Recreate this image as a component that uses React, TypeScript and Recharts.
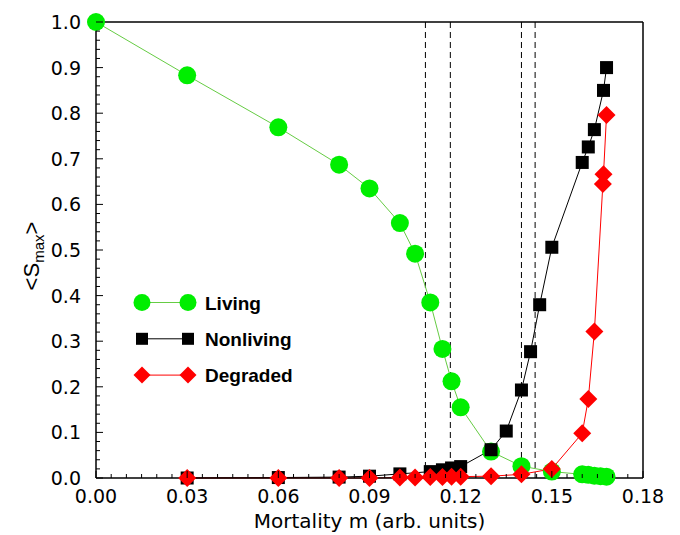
import React from "react";
import { LineChart, Line, XAxis, YAxis, ReferenceLine, Label } from "recharts";

// mortality (x) and mean largest cluster size <S_max> (y)
const livingM = [0, 0.03, 0.06, 0.08, 0.09, 0.1, 0.105, 0.11, 0.114, 0.117, 0.12, 0.13, 0.14, 0.15, 0.16, 0.162, 0.164, 0.166, 0.168];
const livingS = [1.0, 0.883, 0.769, 0.687, 0.635, 0.559, 0.492, 0.385, 0.283, 0.212, 0.155, 0.058, 0.026, 0.014, 0.008, 0.007, 0.005, 0.004, 0.003];

const nonlivingM = [0.03, 0.06, 0.08, 0.09, 0.1, 0.11, 0.114, 0.117, 0.12, 0.13, 0.135, 0.14, 0.143, 0.146, 0.15, 0.16, 0.162, 0.164, 0.167, 0.168];
const nonlivingS = [0.0, 0.001, 0.002, 0.004, 0.009, 0.014, 0.018, 0.022, 0.025, 0.062, 0.103, 0.193, 0.277, 0.38, 0.506, 0.692, 0.726, 0.764, 0.85, 0.9];

const degradedM = [0.03, 0.06, 0.08, 0.09, 0.1, 0.105, 0.11, 0.114, 0.117, 0.12, 0.13, 0.14, 0.15, 0.16, 0.162, 0.164, 0.1668, 0.167, 0.168];
const degradedS = [0, 0, 0, 0, 0.001, 0.001, 0.002, 0.002, 0.003, 0.003, 0.004, 0.008, 0.02, 0.098, 0.173, 0.321, 0.645, 0.666, 0.796];

// dashed vertical markers
const dashedM = [0.1084, 0.1166, 0.14, 0.1445];

const xMajor = [0, 0.03, 0.06, 0.09, 0.12, 0.15, 0.18];
const yMajor = [0, 0.1, 0.2, 0.3, 0.4, 0.5, 0.6, 0.7, 0.8, 0.9, 1.0];

const xTicks: number[] = [];
for (let i = 0; i <= 36; i++) xTicks.push(Number((i * 0.005).toFixed(3)));
const yTicks: number[] = [];
for (let i = 0; i <= 50; i++) yTicks.push(Number((i * 0.02).toFixed(2)));

const zip = (m: number[], s: number[]) => m.map((v, i) => ({ m: v, s: s[i] }));
const living = zip(livingM, livingS);
const nonliving = zip(nonlivingM, nonlivingS);
const degraded = zip(degradedM, degradedS);

const GREEN = "#00ee00";
const GREEN_LINE = "#66cc44";
const RED = "#ff0000";
const NUM_FONT = "DejaVu Sans";

const isMajorX = (v: number) => xMajor.some((t) => Math.abs(t - v) < 1e-6);
const isMajorY = (v: number) => yMajor.some((t) => Math.abs(t - v) < 1e-6);

function BottomTick(p: any) {
    const v = p.payload.value;
    const major = isMajorX(v);
    return (
        <g>
            <line x1={p.x} x2={p.x} y1={p.y} y2={p.y - (major ? 7 : 4)} stroke="#000" />
            {major && (
                <text x={p.x} y={p.y + 25} textAnchor="middle" fontSize={19} fontFamily={NUM_FONT} fill="#000">
                    {v.toFixed(2)}
                </text>
            )}
        </g>
    );
}

function TopTick(p: any) {
    const major = isMajorX(p.payload.value);
    return <line x1={p.x} x2={p.x} y1={p.y} y2={p.y + (major ? 7 : 4)} stroke="#000" />;
}

function LeftTick(p: any) {
    const v = p.payload.value;
    const major = isMajorY(v);
    return (
        <g>
            <line x1={p.x} x2={p.x + (major ? 7 : 4)} y1={p.y} y2={p.y} stroke="#000" />
            {major && (
                <text x={p.x - 15} y={p.y + 7} textAnchor="end" fontSize={19} fontFamily={NUM_FONT} fill="#000">
                    {v.toFixed(1)}
                </text>
            )}
        </g>
    );
}

function RightTick(p: any) {
    const major = isMajorY(p.payload.value);
    return <line x1={p.x} x2={p.x - (major ? 7 : 4)} y1={p.y} y2={p.y} stroke="#000" />;
}

const circleDot = (p: any) => <circle key={`c${p.index}`} cx={p.cx} cy={p.cy} r={9} fill={GREEN} />;
const squareDot = (p: any) => <rect key={`s${p.index}`} x={p.cx - 6.5} y={p.cy - 6.5} width={13} height={13} fill="#000" />;
const diamondDot = (p: any) => (
    <path key={`d${p.index}`} d={`M${p.cx},${p.cy - 9}L${p.cx + 9},${p.cy}L${p.cx},${p.cy + 9}L${p.cx - 9},${p.cy}Z`} fill={RED} />
);

function XTitle(props: any) {
    const vb = props.viewBox;
    return (
        <text x={vb.x + vb.width / 2} y={vb.y + 50} textAnchor="middle" fontSize={20} fontFamily={NUM_FONT} fill="#000">
            Mortality m (arb. units)
        </text>
    );
}

function YTitle(props: any) {
    const vb = props.viewBox;
    const cx = vb.x + vb.width - 57;
    const cy = vb.y + vb.height / 2 + 6;
    return (
        <text x={cx} y={cy} transform={`rotate(-90, ${cx}, ${cy})`} textAnchor="middle" fontSize={22} fontFamily="Liberation Sans" fill="#000">
            <tspan>{"<S"}</tspan>
            <tspan fontSize={15} dy={5}>max</tspan>
            <tspan dy={-5}>{">"}</tspan>
        </text>
    );
}

const legendItems = [
    { name: "Living", color: GREEN_LINE, shape: "circle" },
    { name: "Nonliving", color: "#000", shape: "square" },
    { name: "Degraded", color: RED, shape: "diamond" },
];

function Marker({ shape, x, y }: { shape: string; x: number; y: number }) {
    if (shape === "circle") return <circle cx={x} cy={y} r={8.5} fill={GREEN} />;
    if (shape === "square") return <rect x={x - 6} y={y - 6} width={12} height={12} fill="#000" />;
    return <path d={`M${x},${y - 8.5}L${x + 8.5},${y}L${x},${y + 8.5}L${x - 8.5},${y}Z`} fill={RED} />;
}

function LegendBox() {
    return (
        <svg width={220} height={120} style={{ position: "absolute", left: 120, top: 280 }}>
            {legendItems.map((it, i) => {
                const y = 22.5 + i * 36.3;
                return (
                    <g key={it.name}>
                        <line x1={22} x2={68} y1={y} y2={y} stroke={it.color} strokeWidth={1} />
                        <Marker shape={it.shape} x={22} y={y} />
                        <Marker shape={it.shape} x={68} y={y} />
                        <text x={85} y={y + 7} fontSize={19} fontWeight="bold" fontFamily="Liberation Sans" fill="#000">
                            {it.name}
                        </text>
                    </g>
                );
            })}
        </svg>
    );
}

const axisLine = { stroke: "#000", strokeWidth: 1.5 };

export default function App() {
    return (
        <div style={{ position: "absolute", left: 0, top: 0, width: 680, height: 535, background: "#fff" }}>
            <LineChart width={680} height={535} margin={{ top: 21, right: 36, bottom: 56, left: 95 }}>
                <XAxis
                    type="number"
                    dataKey="m"
                    domain={[0, 0.18]}
                    ticks={xTicks}
                    interval={0}
                    height={1}
                    tickSize={0}
                    tickMargin={0}
                    tickLine={false}
                    tick={BottomTick}
                    axisLine={axisLine}
                >
                    <Label content={XTitle} />
                </XAxis>
                <XAxis
                    xAxisId="top"
                    orientation="top"
                    type="number"
                    dataKey="m"
                    domain={[0, 0.18]}
                    ticks={xTicks}
                    interval={0}
                    height={1}
                    tickSize={0}
                    tickMargin={0}
                    tickLine={false}
                    tick={TopTick}
                    axisLine={axisLine}
                />
                <YAxis
                    type="number"
                    domain={[0, 1]}
                    ticks={yTicks}
                    interval={0}
                    width={1}
                    tickSize={0}
                    tickMargin={0}
                    tickLine={false}
                    tick={LeftTick}
                    axisLine={axisLine}
                >
                    <Label content={YTitle} />
                </YAxis>
                <YAxis
                    yAxisId="right"
                    orientation="right"
                    type="number"
                    domain={[0, 1]}
                    ticks={yTicks}
                    interval={0}
                    width={1}
                    tickSize={0}
                    tickMargin={0}
                    tickLine={false}
                    tick={RightTick}
                    axisLine={axisLine}
                />
                {dashedM.map((m) => (
                    <ReferenceLine key={m} x={m} stroke="#000" strokeWidth={1} strokeDasharray="6 4" />
                ))}
                <Line data={living} dataKey="s" type="linear" stroke={GREEN_LINE} strokeWidth={1} dot={circleDot} activeDot={false} isAnimationActive={false} />
                <Line data={nonliving} dataKey="s" type="linear" stroke="#000" strokeWidth={1} dot={squareDot} activeDot={false} isAnimationActive={false} />
                <Line data={degraded} dataKey="s" type="linear" stroke={RED} strokeWidth={1} dot={diamondDot} activeDot={false} isAnimationActive={false} />
            </LineChart>
            <LegendBox />
        </div>
    );
}
